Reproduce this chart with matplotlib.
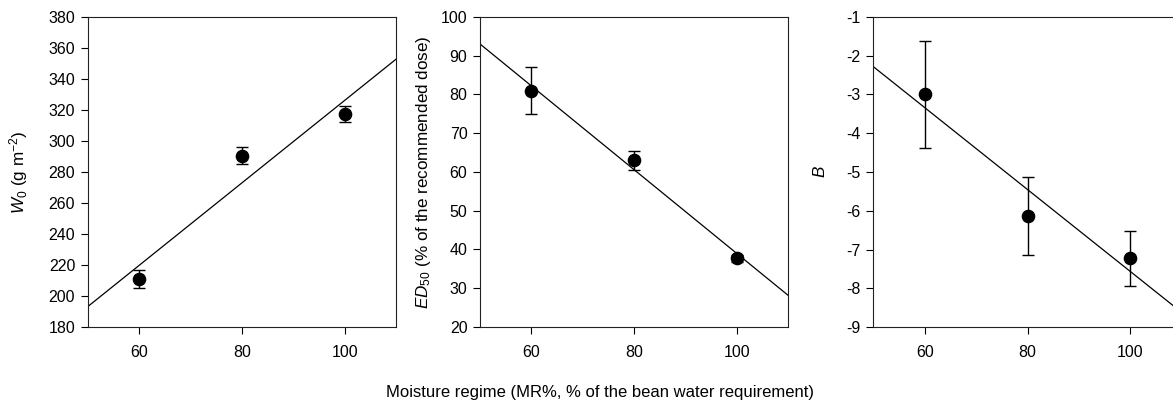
import matplotlib
matplotlib.use("Agg")
import matplotlib.pyplot as plt
import numpy as np

plt.rcParams['font.family'] = ['Liberation Sans', 'DejaVu Sans']
plt.rcParams['mathtext.fontset'] = 'custom'
plt.rcParams['mathtext.rm'] = 'Liberation Sans'
plt.rcParams['mathtext.it'] = 'Liberation Sans:italic'
plt.rcParams['mathtext.default'] = 'regular'

# Data
moisture = [60, 80, 100]
w0 = [211, 290.5, 317.5]
w0_err = [6, 5.5, 5]
ed50 = [81, 63, 37.7]
ed50_err = [6, 2.5, 1]
b_vals = [-3.0, -6.13, -7.23]
b_err = [1.37, 1.0, 0.72]

panels = [
    dict(y=w0, e=w0_err, ylim=(180, 380), yticks=np.arange(180, 381, 20),
         ylabel=r'$\mathit{W_0}$ (g m$^{-2}$)', left=87.7, labx=-0.187),
    dict(y=ed50, e=ed50_err, ylim=(20, 100), yticks=np.arange(20, 101, 10),
         ylabel=r'$\mathit{ED_{50}}$ (% of the recommended dose)', left=480, labx=-0.151),
    dict(y=b_vals, e=b_err, ylim=(-9, -1), yticks=np.arange(-9, 0, 1),
         ylabel=r'$\mathit{B}$', left=873.3, labx=-0.146),
]

W, H = 1173, 401
fig = plt.figure(figsize=(W / 100, H / 100), dpi=100)

xlim = (50, 110)
for p in panels:
    ax = fig.add_axes([p['left'] / W, 1 - 327 / H, 308.5 / W, 310 / H])
    coef = np.polyfit(moisture, p['y'], 1)
    xs = np.array(xlim)
    ax.plot(xs, np.polyval(coef, xs), color='black', lw=0.9)
    ax.errorbar(moisture, p['y'], yerr=p['e'], fmt='o', color='black', ms=8.8,
                ecolor='black', elinewidth=1, capsize=4.5, capthick=1)
    ax.set_xlim(*xlim)
    ax.set_ylim(*p['ylim'])
    ax.set_xticks([60, 80, 100])
    ax.set_yticks(p['yticks'])
    ax.set_yticklabels([f'{int(v)}' for v in p['yticks']])
    ax.tick_params(direction='out', length=5, width=0.8, labelsize=11.5, pad=4,
                   top=False, right=False)
    ax.tick_params(axis='x', pad=8)
    for s in ax.spines.values():
        s.set_linewidth(0.8)
        s.set_color('#222222')
    ax.set_ylabel(p['ylabel'], fontsize=12.3)
    ax.yaxis.set_label_coords(p['labx'], 0.5)

fig.text(600 / W, 1 - 392 / H, 'Moisture regime (MR%, % of the bean water requirement)',
         ha='center', va='center', fontsize=12)

fig.savefig('out.png', dpi=100)
